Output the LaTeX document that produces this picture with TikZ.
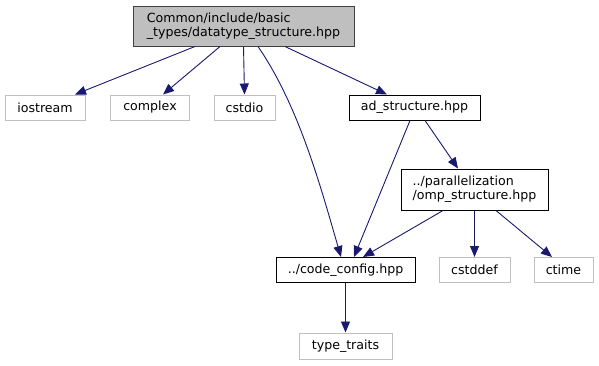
\documentclass[tikz,border=0pt]{standalone}
\usepackage{fontspec}
\setmainfont{DejaVu Sans}
\usetikzlibrary{arrows.meta}
\definecolor{edgeblue}{HTML}{191970}
\definecolor{extgray}{HTML}{BFBFBF}
\definecolor{rootfill}{HTML}{BFBFBF}
\definecolor{rootline}{HTML}{404040}
\begin{document}
\begin{tikzpicture}[x=1pt,y=-1pt,
  every node/.style={font=\fontsize{12.6}{14}\selectfont, inner sep=0pt, line width=1pt},
  filebox/.style={draw=black, fill=white, minimum height=25pt},
  extbox/.style={draw=extgray, fill=white, minimum height=25pt},
  rootbox/.style={draw=rootline, fill=rootfill, align=left},
  dep/.style={draw=edgeblue, line width=0.9pt, -{Triangle[length=11pt,width=9pt]}, color=edgeblue}
]
\useasboundingbox (0,0) rectangle (599,365);

% header nodes
\node[rootbox, minimum width=221pt, minimum height=40pt] (root) at (243.5,26)
  {Common/include/basic\\\_types/datatype\_structure.hpp};
\node[extbox, minimum width=80pt] (iostream) at (45,107.5) {iostream};
\node[extbox, minimum width=79pt] (complex) at (150,107.5) {complex};
\node[extbox, minimum width=61pt] (cstdio) at (244.5,107.5) {cstdio};
\node[filebox, minimum width=131pt] (ad) at (414.5,107.5) {ad\_structure.hpp};
\node[filebox, minimum width=147pt, minimum height=41pt, align=left] (omp) at (474.5,189.5)
  {../parallelization\\/omp\_structure.hpp};
\node[filebox, minimum width=139pt] (code) at (345.5,270) {../code\_config.hpp};
\node[extbox, minimum width=71pt] (cstddef) at (474.5,270) {cstddef};
\node[extbox, minimum width=59pt] (ctime) at (563.5,270) {ctime};
\node[extbox, minimum width=93pt, minimum height=26pt] (traits) at (345.5,346) {type\_traits};

% include edges
\draw[dep] ([xshift=-48.5pt]root.south) -- ([xshift=30pt]iostream.north);
\draw[dep] ([xshift=-23.5pt]root.south) -- ([xshift=13pt]complex.north);
\draw[dep] (root.south) -- (cstdio.north);
\draw[dep] ([xshift=14.5pt]root.south) .. controls (299,106) and (321,188) .. ([xshift=-4.5pt]code.north);
\draw[dep] ([xshift=41.5pt]root.south) -- ([xshift=-27.5pt]ad.north);
\draw[dep] ([xshift=-4.5pt]ad.south) -- ([xshift=8.5pt]code.north);
\draw[dep] ([xshift=10.5pt]ad.south) -- ([xshift=-16.5pt]omp.north);
\draw[dep] ([xshift=-31.5pt]omp.south) -- ([xshift=17.5pt]code.north);
\draw[dep] (omp.south) -- (cstddef.north);
\draw[dep] ([xshift=21.5pt]omp.south) -- ([xshift=-11.5pt]ctime.north);
\draw[dep] (code.south) -- (traits.north);
\end{tikzpicture}
\end{document}
